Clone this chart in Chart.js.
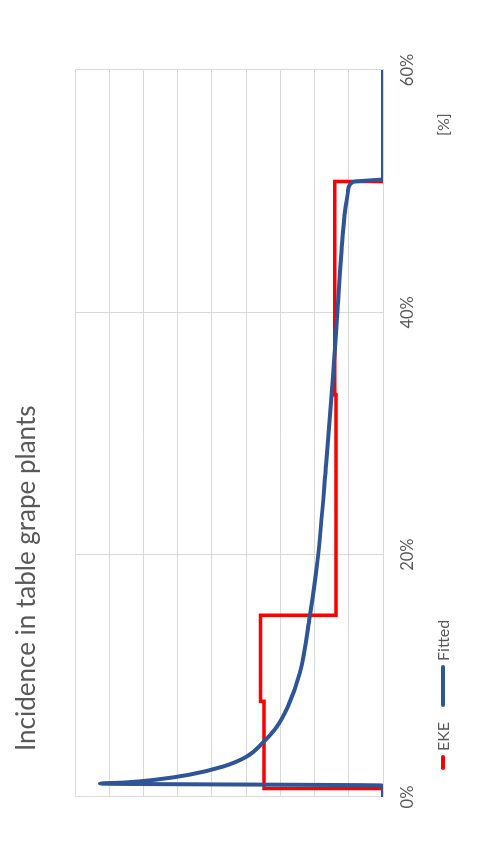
<!DOCTYPE html>
<html>
<head>
<meta charset="utf-8">
<script src="https://cdn.jsdelivr.net/npm/chart.js@4"></script>
<style>
  html, body { margin: 0; padding: 0; background: #fff; overflow: hidden; }
  #wrap {
    position: absolute; left: 0; top: 0;
    width: 857px; height: 489px;
    transform-origin: 0 0;
    transform: translate(0, 857px) rotate(-90deg);
    font-family: Lato, "Open Sans", sans-serif;
    color: #595959;
  }
  #chart { position: absolute; left: 0; top: 0; }
  #title { position: absolute; left: 106px; top: 12px; font-size: 26px; line-height: 26px; white-space: nowrap; }
  #unit { position: absolute; left: 721px; top: 435px; font-size: 16px; line-height: 16px; }
  #legend { position: absolute; left: 87px; top: 435px; display: flex; align-items: center; font-size: 16px; line-height: 16px; }
  #legend .sw { height: 4px; border-radius: 2px; margin-right: 4px; }
  #legend .it { display: flex; align-items: center; margin-right: 15px; }
</style>
</head>
<body>
<div id="wrap">
  <canvas id="chart" width="857" height="489"></canvas>
  <div id="title">Incidence in table grape plants</div>
  <div id="legend"></div>
  <div id="unit">[%]</div>
</div>
<script>
// incidence [%]
var xTicks = [0, 20, 40, 60];

// EKE (step line)
var ekeX = [0, 0.7, 7.9, 15.0, 33.2, 50.8, 60];
var ekeY = [0, 3.48, 3.58, 1.37, 1.41, 0, 0];

// Fitted curve
var fitX = [0, 0.95, 1.11, 1.19, 1.44, 1.85, 2.51, 3.34, 4.49, 5.81, 7.46, 10.26, 14.88, 19.58, 27.58, 34.42, 40.19, 46.21, 48.5, 50.08, 50.77, 50.99, 60];
var fitY = [0, 0, 8.27, 7.59, 6.61, 5.64, 4.68, 3.98, 3.51, 3.10, 2.78, 2.43, 2.14, 1.91, 1.66, 1.47, 1.33, 1.18, 1.10, 1.02, 0.88, 0, 0];

var series = [
  { label: 'EKE', color: '#FF0000', sw: 15 },
  { label: 'Fitted', color: '#2F5597', sw: 42 }
];

function pts(xs, ys) {
  return xs.map(function (x, i) { return { x: x, y: ys[i] }; });
}

var grid = '#D9D9D9';

var chart = new Chart(document.getElementById('chart').getContext('2d'), {
  type: 'line',
  data: {
    datasets: [
      {
        label: 'EKE',
        data: pts(ekeX, ekeY),
        borderColor: '#FF0000',
        borderWidth: 3.5,
        stepped: 'before',
        pointRadius: 0,
        order: 2
      },
      {
        label: 'Fitted',
        data: pts(fitX, fitY),
        borderColor: '#2F5597',
        borderWidth: 4,
        cubicInterpolationMode: 'monotone',
        borderCapStyle: 'round',
        borderJoinStyle: 'round',
        pointRadius: 0,
        order: 1
      }
    ]
  },
  options: {
    responsive: false,
    devicePixelRatio: 1,
    animation: false,
    layout: { padding: { left: 60, right: 70, top: 75, bottom: 0 } },
    plugins: { legend: { display: false }, title: { display: false }, tooltip: { enabled: false } },
    scales: {
      x: {
        type: 'linear',
        min: 0,
        max: 60,
        afterBuildTicks: function (s) { s.ticks = xTicks.map(function (v) { return { value: v }; }); },
        afterFit: function (s) { s.height = 106; },
        grid: { color: grid, drawTicks: false },
        border: { color: grid },
        ticks: {
          padding: 15,
          color: '#595959',
          font: { family: 'Lato', size: 16.5 },
          callback: function (v) { return v + '%'; }
        }
      },
      y: {
        min: 0,
        max: 9,
        afterFit: function (s) { s.width = 0; },
        grid: { color: grid, drawTicks: false },
        border: { display: false },
        ticks: { display: false, stepSize: 1 }
      }
    }
  }
});

// legend
var lg = document.getElementById('legend');
series.forEach(function (s) {
  var it = document.createElement('div');
  it.className = 'it';
  var sw = document.createElement('div');
  sw.className = 'sw';
  sw.style.width = s.sw + 'px';
  sw.style.background = s.color;
  var t = document.createElement('span');
  t.textContent = s.label;
  it.appendChild(sw);
  it.appendChild(t);
  lg.appendChild(it);
});
</script>
</body>
</html>
